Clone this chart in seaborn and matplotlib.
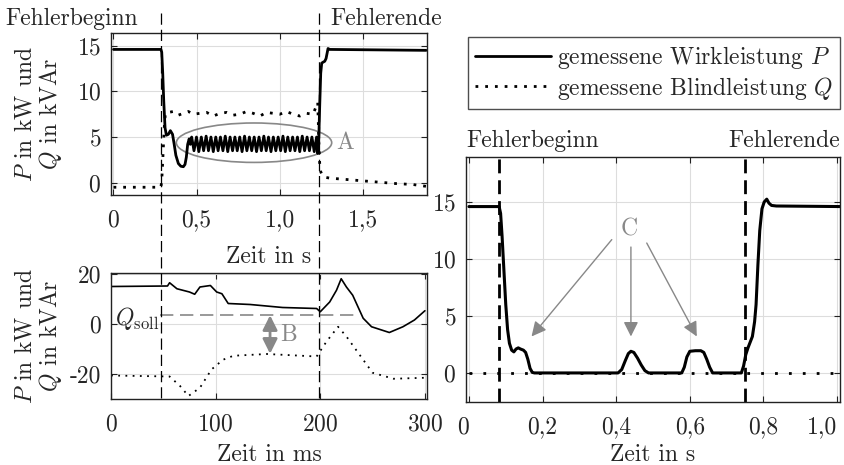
import matplotlib
matplotlib.use("Agg")
import matplotlib.pyplot as plt
import matplotlib.transforms as mtransforms
from matplotlib.patches import Ellipse
from matplotlib.lines import Line2D
import seaborn as sns

# ---------------------------------------------------------------------------
# values
# ---------------------------------------------------------------------------
# top left: whole fault, time in s
t_over_p = [0.0, 0.285, 0.290, 0.296, 0.302, 0.310, 0.318, 0.330, 0.342, 0.355,
            0.365, 0.375, 0.390, 0.405, 0.420, 0.430, 0.438, 0.446, 0.455, 0.462,
            0.470, 0.484, 0.499, 0.513, 0.528, 0.542, 0.557, 0.571, 0.586, 0.600,
            0.615, 0.629, 0.643, 0.658, 0.672, 0.687, 0.701, 0.716, 0.730, 0.744,
            0.759, 0.773, 0.788, 0.802, 0.817, 0.831, 0.846, 0.860, 0.875, 0.889,
            0.904, 0.918, 0.932, 0.947, 0.961, 0.976, 0.990, 1.005, 1.019, 1.033,
            1.048, 1.062, 1.077, 1.091, 1.106, 1.120, 1.135, 1.149, 1.164, 1.178,
            1.193, 1.207, 1.221, 1.228, 1.234, 1.240, 1.246, 1.252, 1.260, 1.270,
            1.278, 1.290, 1.300, 1.880]
p_over = [14.6, 14.6, 14.3, 12.0, 9.0, 6.0, 5.2, 5.3, 5.7, 5.3,
          4.2, 3.0, 2.1, 1.8, 1.75, 2.0, 2.8, 4.2, 4.8, 4.2,
          5.0, 3.5, 5.0, 3.4, 5.0, 3.5, 5.1, 3.5, 5.0, 3.4,
          5.0, 3.5, 5.0, 3.5, 5.1, 3.4, 5.0, 3.5, 5.0, 3.5,
          5.0, 3.4, 5.1, 3.5, 5.0, 3.5, 5.0, 3.4, 5.0, 3.5,
          5.1, 3.5, 5.0, 3.4, 5.0, 3.5, 5.0, 3.5, 5.1, 3.4,
          5.0, 3.5, 5.0, 3.5, 5.0, 3.4, 5.1, 3.5, 5.0, 3.5,
          5.0, 3.4, 5.0, 3.2, 4.6, 8.5, 12.0, 13.1, 13.2, 13.3,
          13.6, 14.7, 14.6, 14.5]
t_over_q = [0.0, 0.285, 0.290, 0.295, 0.300, 0.305, 0.312, 0.33, 0.36, 0.39,
            0.42, 0.45, 0.48, 0.52, 0.56, 0.60, 0.64, 0.68, 0.72, 0.76,
            0.80, 0.84, 0.88, 0.92, 0.96, 1.00, 1.04, 1.08, 1.12, 1.16,
            1.20, 1.228, 1.234, 1.240, 1.246, 1.255, 1.27, 1.30, 1.40, 1.50,
            1.60, 1.70, 1.80, 1.88]
q_over = [-0.5, -0.5, 0.2, 2.0, 4.0, 6.0, 7.6, 7.7, 7.8, 7.4,
          7.6, 7.8, 7.5, 7.6, 7.7, 7.3, 7.6, 7.7, 7.4, 7.5,
          7.8, 7.6, 7.3, 7.7, 7.6, 7.5, 7.8, 7.5, 7.3, 7.6,
          7.5, 8.8, 5.0, 2.0, 1.2, 0.8, 0.6, 0.5, 0.35, 0.2,
          0.05, -0.1, -0.2, -0.4]
fault_over = [0.288, 1.236]

# bottom left: detail, time in ms
t_det_p = [0, 54, 56, 63, 75, 80, 85, 95, 101, 106,
           112, 133, 164, 196.5, 200, 209, 215.5, 220, 225, 231,
           241, 249, 266, 279, 290, 300]
p_det = [15.0, 15.2, 16.5, 14.1, 12.8, 11.9, 14.8, 15.4, 12.8, 12.1,
         8.2, 7.8, 6.6, 6.2, 4.9, 8.8, 13.5, 18.1, 14.8, 11.5,
         2.3, -1.1, -3.4, -1.1, 1.6, 5.3]
t_det_q = [0, 56, 66, 74, 85, 96, 107, 117, 149, 196.5,
           206, 217, 225, 241, 250, 270, 300]
q_det = [-20.6, -21.0, -24.8, -28.8, -25.5, -18.2, -14.3, -12.7, -12.0, -13.0,
         -7.0, -1.1, -5.0, -14.3, -19.5, -21.9, -21.5]
q_soll = 3.5
q_soll_span = [47, 238]
gap_b = [152, -11.9]

# right: second fault, time in s
t_right_p = [0.0, 0.082, 0.086, 0.090, 0.095, 0.100, 0.105, 0.110, 0.116, 0.122,
             0.128, 0.134, 0.140, 0.148, 0.154, 0.160, 0.166, 0.172, 0.178, 0.405,
             0.415, 0.425, 0.433, 0.440, 0.448, 0.458, 0.468, 0.478, 0.488, 0.578,
             0.585, 0.592, 0.600, 0.615, 0.630, 0.638, 0.646, 0.654, 0.662, 0.740,
             0.746, 0.752, 0.758, 0.764, 0.770, 0.776, 0.780, 0.785, 0.790, 0.796,
             0.802, 0.809, 0.815, 0.822, 0.835, 1.010]
p_right = [14.6, 14.6, 14.0, 12.0, 9.0, 6.0, 3.8, 2.6, 2.0, 1.85,
           2.1, 2.2, 2.1, 2.0, 1.8, 1.2, 0.4, 0.05, 0.0, 0.0,
           0.3, 1.1, 1.7, 1.9, 1.8, 1.3, 0.7, 0.2, 0.0, 0.0,
           0.5, 1.4, 1.9, 1.95, 1.95, 1.8, 1.2, 0.5, 0.0, 0.0,
           0.6, 1.6, 2.2, 2.7, 3.2, 4.5, 6.0, 9.5, 12.5, 14.4,
           15.0, 15.25, 14.9, 14.7, 14.65, 14.6]
t_right_q = [0.0, 1.010]
q_right = [0.0, 0.0]
fault_right = [0.081, 0.750]
arrows_c_from = [(0.388, 11.7), (0.440, 11.05), (0.483, 11.4)]
arrows_c_to = [(0.170, 3.2), (0.440, 3.2), (0.619, 3.2)]

over_xticks = [0, 0.5, 1.0, 1.5]
over_xlabels = ["0", "0,5", "1,0", "1,5"]
pq_yticks = [0, 5, 10, 15]
det_xticks = [0, 100, 200, 300]
det_yticks = [-20, 0, 20]
det_ylabels = ["-20", "0", "20"]
right_xticks = [0, 0.2, 0.4, 0.6, 0.8, 1.0]
right_xlabels = ["0", "0,2", "0,4", "0,6", "0,8", "1,0"]

# ---------------------------------------------------------------------------
sns.set_style("ticks")
plt.rcParams["font.family"] = ["cmr10", "DejaVu Serif"]
plt.rcParams["mathtext.fontset"] = "cm"
plt.rcParams["axes.unicode_minus"] = False
plt.rcParams["axes.formatter.use_mathtext"] = True
FS = 17
GRAY = "#888888"
dotted = (0, (1, 2.5))

fig = plt.figure(figsize=(8.44, 4.65), dpi=100)
W, H = 844, 465


def box(l, t, r, b):
    return [l / W, 1 - b / H, (r - l) / W, (b - t) / H]


ax_over = fig.add_axes(box(111, 33, 427, 195))
ax_det = fig.add_axes(box(111, 273, 427, 399))
ax_right = fig.add_axes(box(466, 157, 840, 402))

for ax in (ax_over, ax_det, ax_right):
    ax.grid(True, color="#dddddd", lw=0.8)
    ax.set_axisbelow(True)
    ax.tick_params(direction="in", top=True, right=True, length=4,
                   labelsize=FS, color="#222222")
    ax.tick_params(axis="x", pad=10)
    ax.tick_params(axis="y", pad=7)
    for s in ax.spines.values():
        s.set_color("#222222")
        s.set_linewidth(1.0)

# top left
sns.lineplot(x=t_over_p, y=p_over, ax=ax_over, color="k", lw=2.0,
             estimator=None, sort=False, label="gemessene Wirkleistung $P$")
sns.lineplot(x=t_over_q, y=q_over, ax=ax_over, color="k", lw=2.0,
             linestyle=dotted, estimator=None, sort=False,
             label="gemessene Blindleistung $Q$")
handles, labels = ax_over.get_legend_handles_labels()
if ax_over.get_legend() is not None:
    ax_over.get_legend().remove()
ax_over.set_xlim(-0.015, 1.885)
ax_over.set_ylim(-1.35, 16.4)
ax_over.set_xticks(over_xticks, over_xlabels)
ax_over.set_yticks(pq_yticks)
ax_over.set_xlabel("Zeit in s", fontsize=FS)
ax_over.set_ylabel("$P$ in kW und\n$Q$ in kVAr", fontsize=FS, linespacing=1.0)
ax_over.xaxis.set_label_coords(0.5, -0.315)
ax_over.yaxis.set_label_coords(-0.15, 0.5)
ax_over.add_patch(Ellipse((0.845, 4.38), 0.934, 4.32, fill=False,
                          edgecolor=GRAY, lw=1.2))
ax_over.text(1.39, 4.3, "A", color=GRAY, fontsize=FS, ha="center", va="center")

# bottom left
sns.lineplot(x=t_det_p, y=p_det, ax=ax_det, color="k", lw=1.2,
             estimator=None, sort=False)
sns.lineplot(x=t_det_q, y=q_det, ax=ax_det, color="k", lw=1.3,
             linestyle=(0, (1, 3)), estimator=None, sort=False)
ax_det.set_xlim(0, 302)
ax_det.set_ylim(-30, 20.4)
ax_det.set_xticks(det_xticks)
ax_det.set_yticks(det_yticks, det_ylabels)
ax_det.set_xlabel("Zeit in ms", fontsize=FS)
ax_det.set_ylabel("$P$ in kW und\n$Q$ in kVAr", fontsize=FS, linespacing=1.0)
ax_det.xaxis.set_label_coords(0.5, -0.36)
ax_det.yaxis.set_label_coords(-0.15, 0.5)
ax_det.plot(q_soll_span, [q_soll, q_soll], color=GRAY, lw=1.2, ls=(0, (8, 4)))
ax_det.text(q_soll_span[0] - 1, q_soll - 4, r"$Q_\mathrm{soll}$", fontsize=FS,
            ha="right", va="baseline")
ax_det.annotate("", xy=(gap_b[0], gap_b[1]), xytext=(gap_b[0], q_soll),
                arrowprops=dict(arrowstyle="<|-|>", color=GRAY, lw=2,
                                mutation_scale=22, shrinkA=0, shrinkB=0))
ax_det.text(gap_b[0] + 18, (q_soll + gap_b[1]) / 2, "B", color=GRAY,
            fontsize=FS, ha="center", va="center")

# fault markers across both left panels
blend = mtransforms.blended_transform_factory(ax_over.transData, fig.transFigure)
for xf in fault_over:
    fig.add_artist(Line2D([xf, xf], [1 - 13 / H, 1 - 399 / H], transform=blend,
                          color="k", lw=0.9, ls=(0, (9, 4))))
fig.text(5 / W, 1 - 25 / H, "Fehlerbeginn", fontsize=FS, va="baseline")
fig.text(330 / W, 1 - 25 / H, "Fehlerende", fontsize=FS, va="baseline")

# right
sns.lineplot(x=t_right_p, y=p_right, ax=ax_right, color="k", lw=2.2,
             estimator=None, sort=False)
sns.lineplot(x=t_right_q, y=q_right, ax=ax_right, color="k", lw=2.0,
             linestyle=(0, (1, 4)), estimator=None, sort=False)
for xf in fault_right:
    ax_right.axvline(xf, color="k", lw=2.0, ls=(0, (5, 2.5)))
ax_right.set_xlim(-0.008, 1.008)
ax_right.set_ylim(-2.55, 18.95)
ax_right.set_xticks(right_xticks, right_xlabels)
ax_right.set_yticks(pq_yticks)
xt = ax_right.get_xticklabels()
xt[0].set_ha("right")
xt[-1].set_ha("right")
ax_right.set_xlabel("Zeit in s", fontsize=FS)
ax_right.xaxis.set_label_coords(0.5, -0.17)
ax_right.text(0, 1.04, "Fehlerbeginn", transform=ax_right.transAxes,
              fontsize=FS, ha="left", va="baseline")
ax_right.text(1, 1.04, "Fehlerende", transform=ax_right.transAxes,
              fontsize=FS, ha="right", va="baseline")
ax_right.text(0.434, 12.6, "C", color=GRAY, fontsize=FS, ha="center", va="center")
for src, dst in zip(arrows_c_from, arrows_c_to):
    ax_right.annotate("", xy=dst, xytext=src,
                      arrowprops=dict(arrowstyle="-|>", color=GRAY, lw=1.0,
                                      mutation_scale=22, shrinkA=0, shrinkB=0))

leg = fig.legend(handles, labels, loc="upper right",
                 bbox_to_anchor=(840 / W, 1 - 37 / H), fontsize=FS,
                 frameon=True, fancybox=False, handlelength=3.2,
                 borderpad=0.3, labelspacing=0.15, handletextpad=0.25,
                 borderaxespad=0)
leg.get_frame().set_edgecolor("#222222")
leg.get_frame().set_linewidth(1.0)

fig.savefig("out.png", dpi=100)
